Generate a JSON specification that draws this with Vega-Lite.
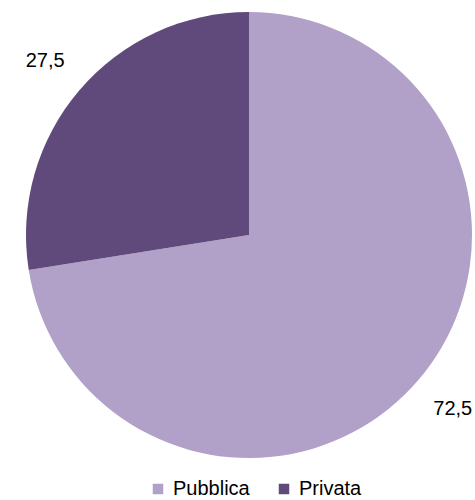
{
  "$schema": "https://vega.github.io/schema/vega-lite/v6.json",
  "width": 476,
  "height": 470,
  "autosize": "none",
  "padding": {"left": 11, "top": 0, "right": 0, "bottom": 30},
  "background": "white",
  "config": {"view": {"stroke": null}, "font": "Liberation Sans"},
  "data": {"values": [
    {"categoria": "Pubblica", "valore": 72.5, "etichetta": "72,5", "ordine": 1},
    {"categoria": "Privata", "valore": 27.5, "etichetta": "27,5", "ordine": 2}
  ]},
  "encoding": {
    "theta": {"field": "valore", "type": "quantitative", "stack": true},
    "order": {"field": "ordine", "type": "quantitative", "sort": "ascending"}
  },
  "layer": [
    {
      "mark": {"type": "arc", "outerRadius": 223},
      "encoding": {
        "color": {
          "field": "categoria", "type": "nominal",
          "sort": ["Pubblica", "Privata"],
          "scale": {"domain": ["Pubblica", "Privata"], "range": ["#B1A0C7", "#604A7B"]},
          "legend": {
            "title": null,
            "orient": "none",
            "direction": "horizontal",
            "legendX": 137,
            "legendY": 479,
            "symbolType": "square",
            "symbolSize": 110,
            "symbolStrokeWidth": 0,
            "labelFont": "Liberation Sans",
            "labelFontSize": 20,
            "labelColor": "#000000",
            "labelOffset": 5,
            "columnPadding": 24
          }
        }
      }
    },
    {
      "mark": {"type": "text", "radius": 268, "fontSize": 20, "font": "Liberation Sans", "color": "#000000", "align": "center", "baseline": "middle"},
      "encoding": {
        "text": {"field": "etichetta", "type": "nominal"}
      }
    }
  ]
}
